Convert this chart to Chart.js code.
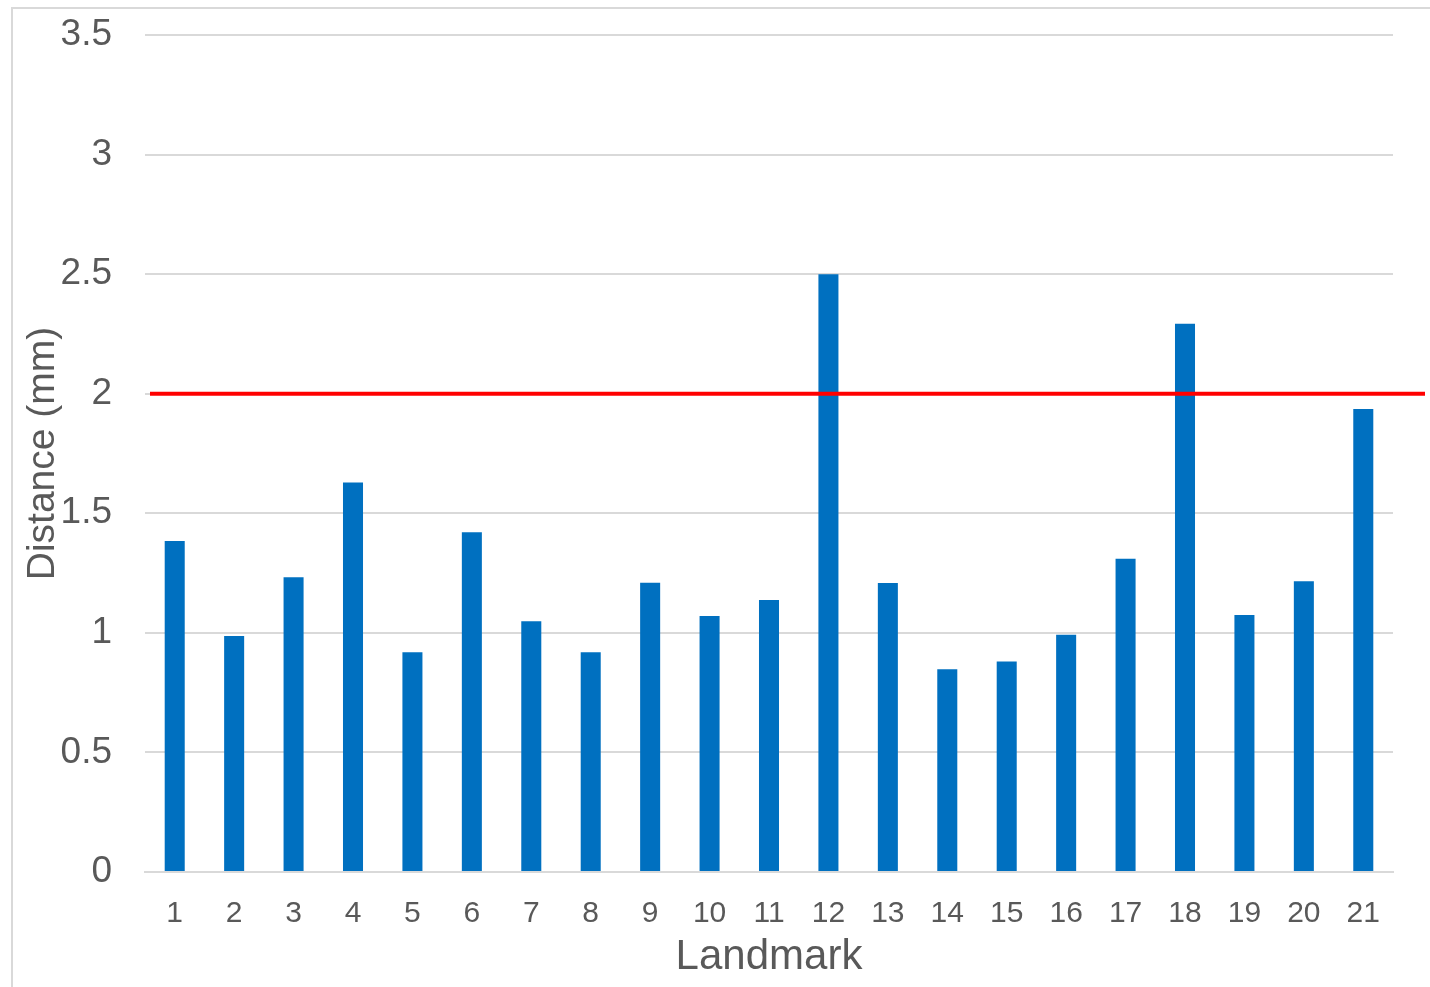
<!DOCTYPE html>
<html lang="en">
<head>
  <meta charset="UTF-8" />
  <title>Landmark distance</title>
  <style>
    html, body { margin: 0; padding: 0; background: #fff; }
    #wrap { position: relative; width: 1430px; height: 987px; }
  </style>
</head>
<body>
  <div id="wrap">
    <canvas id="distChart" width="1430" height="987"></canvas>
  </div>

  <script src="https://cdn.jsdelivr.net/npm/chart.js"></script>
  <script>
    const landmarks = ['1', '2', '3', '4', '5', '6', '7', '8', '9', '10', '11',
                       '12', '13', '14', '15', '16', '17', '18', '19', '20', '21'];
    const distances = [1.384, 0.987, 1.233, 1.629, 0.919, 1.421, 1.049, 0.919, 1.210, 1.070, 1.137,
                       2.50, 1.209, 0.848, 0.880, 0.992, 1.310, 2.293, 1.075, 1.216, 1.936];
    const yTicks = [0, 0.5, 1, 1.5, 2, 2.5, 3, 3.5];
    const threshold = 2;

    const textColor = '#595959';
    const gridColor = '#d9d9d9';
    const fontFamily = 'Liberation Sans, Arial, sans-serif';

    // frame round the figure and the red threshold line
    const extras = {
      id: 'extras',
      beforeDraw(chart) {
        const ctx = chart.ctx;
        ctx.save();
        ctx.strokeStyle = gridColor;
        ctx.lineWidth = 2;
        ctx.beginPath();
        ctx.moveTo(12, 987);
        ctx.lineTo(12, 8);
        ctx.lineTo(1430, 8);
        ctx.stroke();
        ctx.restore();
      },
      afterDatasetsDraw(chart) {
        const ctx = chart.ctx;
        const area = chart.chartArea;
        const y = chart.scales.y.getPixelForValue(threshold);
        ctx.save();
        ctx.strokeStyle = '#ff0000';
        ctx.lineWidth = 4;
        ctx.beginPath();
        ctx.moveTo(area.left + 5, y);
        ctx.lineTo(area.right + 32, y);
        ctx.stroke();
        ctx.restore();
      }
    };

    new Chart(document.getElementById('distChart'), {
      type: 'bar',
      data: {
        labels: landmarks,
        datasets: [{
          label: 'Distance',
          data: distances,
          backgroundColor: '#0070c0',
          borderWidth: 0,
          barPercentage: 0.337,
          categoryPercentage: 1
        }]
      },
      options: {
        responsive: false,
        animation: false,
        layout: { padding: { left: 12, top: 35, right: 37, bottom: 0 } },
        plugins: {
          legend: { display: false },
          tooltip: { enabled: false }
        },
        scales: {
          x: {
            grid: { display: false, drawTicks: false },
            border: { color: gridColor, width: 2 },
            ticks: {
              color: textColor,
              padding: 24,
              font: { family: fontFamily, size: 30 }
            },
            title: {
              display: true,
              text: 'Landmark',
              color: textColor,
              padding: { top: 0, bottom: 4 },
              font: { family: fontFamily, size: 42 }
            },
            afterFit(scale) { scale.height = 115; }
          },
          y: {
            min: 0,
            max: 3.5,
            afterBuildTicks(scale) {
              scale.ticks = yTicks.map(v => ({ value: v }));
            },
            // invisible tick marks keep the labels away from the plot
            grid: { color: gridColor, lineWidth: 2, drawTicks: true, tickLength: 33, tickColor: 'rgba(0,0,0,0)' },
            border: { display: false },
            ticks: {
              color: textColor,
              padding: 0,
              callback: v => String(v),
              font: { family: fontFamily, size: 37 }
            },
            title: {
              display: true,
              text: 'Distance (mm)',
              color: textColor,
              padding: { top: 8, bottom: 0 },
              font: { family: fontFamily, size: 39 }
            },
            afterFit(scale) { scale.width = 133; }
          }
        }
      },
      plugins: [extras]
    });
  </script>
</body>
</html>
